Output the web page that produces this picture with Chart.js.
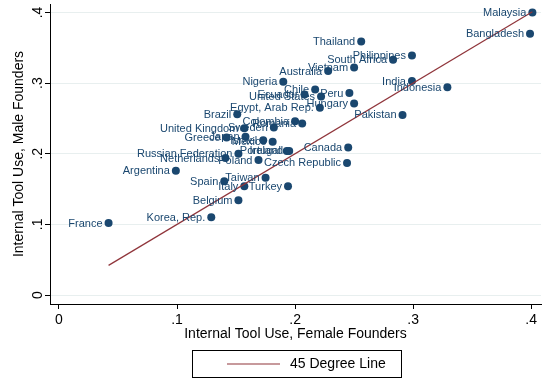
<!DOCTYPE html>
<html>
<head>
<meta charset="utf-8">
<script src="https://cdn.jsdelivr.net/npm/chart.js@4.4.1/dist/chart.umd.min.js"></script>
<style>
  html, body { margin: 0; padding: 0; background: #ffffff; }
  #wrap { width: 545px; height: 379px; }
</style>
</head>
<body>
<div id="wrap"><canvas id="chart" width="545" height="379"></canvas></div>
<script>
// Country labels and the share of founders using internal tools, by founder gender
const countries = [
  'Malaysia', 'Bangladesh', 'Thailand', 'Philippines', 'South Africa', 'Vietnam',
  'Australia', 'India', 'Nigeria', 'Indonesia', 'Chile', 'Peru', 'Ecuador',
  'United States', 'Hungary', 'Egypt, Arab Rep.', 'Pakistan', 'Brazil', 'Colombia',
  'Romania', 'Sweden', 'United Kingdom', 'Japan', 'Greece', 'Israel', 'Mexico',
  'Portugal', 'Ireland', 'Canada', 'Russian Federation', 'Netherlands', 'Poland',
  'Czech Republic', 'Argentina', 'Taiwan', 'Spain', 'Italy', 'Turkey', 'Belgium',
  'Korea, Rep.', 'France'
];
const femaleUse = [
  0.401, 0.399, 0.256, 0.299, 0.283, 0.250,
  0.228, 0.299, 0.190, 0.329, 0.217, 0.246, 0.208,
  0.222, 0.250, 0.221, 0.291, 0.151, 0.200,
  0.206, 0.182, 0.157, 0.158, 0.142, 0.173, 0.181,
  0.193, 0.195, 0.245, 0.152, 0.141, 0.169,
  0.244, 0.099, 0.175, 0.140, 0.157, 0.194, 0.152,
  0.129, 0.042
];
const maleUse = [
  0.400, 0.370, 0.359, 0.339, 0.333, 0.322,
  0.317, 0.303, 0.302, 0.294, 0.291, 0.286, 0.284,
  0.281, 0.271, 0.265, 0.255, 0.256, 0.246,
  0.243, 0.237, 0.236, 0.224, 0.223, 0.219, 0.217,
  0.204, 0.204, 0.209, 0.200, 0.194, 0.191,
  0.187, 0.176, 0.166, 0.161, 0.154, 0.154, 0.134,
  0.110, 0.102
];
const tickValues = [0, 0.1, 0.2, 0.3, 0.4];
const tickLabels = ['0', '.1', '.2', '.3', '.4'];

const NAVY = '#1a476f';
const MAROON = '#90353b';
const FONT = "'Liberation Sans', Arial, sans-serif";

// 45 degree reference line over the range of female values
const lo = Math.min(...femaleUse);
const hi = Math.max(...femaleUse);

const points = femaleUse.map((f, i) => ({ x: f, y: maleUse[i] }));

const labelFor = v => tickLabels[tickValues.findIndex(t => Math.abs(t - v) < 1e-9)] ?? '';

// Country names to the left of each marker
const markerLabels = {
  id: 'markerLabels',
  afterDatasetsDraw(chart) {
    const meta = chart.getDatasetMeta(1);
    const ctx = chart.ctx;
    ctx.save();
    ctx.font = '11px ' + FONT;
    ctx.fillStyle = NAVY;
    ctx.textAlign = 'right';
    ctx.textBaseline = 'middle';
    meta.data.forEach((el, i) => {
      ctx.fillText(countries[i], el.x - 6, el.y + 0.5);
    });
    ctx.restore();
  }
};

// Vertical tick labels and title for the y axis, plus the boxed legend
const extras = {
  id: 'extras',
  afterDraw(chart) {
    const ctx = chart.ctx;
    const ys = chart.scales.y;
    const area = chart.chartArea;
    ctx.save();
    ctx.fillStyle = '#000000';
    ctx.textAlign = 'center';
    ctx.textBaseline = 'middle';
    ctx.font = '14px ' + FONT;
    tickValues.forEach((v, i) => {
      const py = ys.getPixelForValue(v);
      ctx.save();
      ctx.translate(38, py);
      ctx.rotate(-Math.PI / 2);
      ctx.fillText(tickLabels[i], 0, 0);
      ctx.restore();
    });
    ctx.save();
    ctx.translate(19, (area.top + area.bottom) / 2);
    ctx.rotate(-Math.PI / 2);
    ctx.fillText('Internal Tool Use, Male Founders', 0, 0);
    ctx.restore();

    // legend
    const bx = 192, by = 350, bw = 209, bh = 27;
    ctx.strokeStyle = '#000000';
    ctx.lineWidth = 1;
    ctx.strokeRect(bx + 0.5, by + 0.5, bw, bh);
    ctx.strokeStyle = MAROON;
    ctx.lineWidth = 1.2;
    ctx.beginPath();
    ctx.moveTo(227, by + bh / 2 + 0.5);
    ctx.lineTo(280, by + bh / 2 + 0.5);
    ctx.stroke();
    ctx.textAlign = 'left';
    ctx.fillStyle = '#000000';
    ctx.font = '14px ' + FONT;
    ctx.fillText(chart.data.datasets[0].label, 290, by + bh / 2 + 1);
    ctx.restore();
  }
};

new Chart(document.getElementById('chart'), {
  data: {
    datasets: [
      {
        type: 'line',
        label: '45 Degree Line',
        data: [{ x: lo, y: lo }, { x: hi, y: hi }],
        borderColor: MAROON,
        borderWidth: 1.2,
        pointRadius: 0,
        fill: false,
        order: 0
      },
      {
        type: 'scatter',
        label: 'Countries',
        data: points,
        backgroundColor: NAVY,
        borderColor: NAVY,
        borderWidth: 0,
        pointRadius: 4,
        order: 1
      }
    ]
  },
  options: {
    responsive: false,
    devicePixelRatio: 1,
    animation: false,
    layout: { padding: { top: 2, right: 3, bottom: 35, left: 0 } },
    plugins: {
      legend: { display: false },
      tooltip: { enabled: false }
    },
    scales: {
      x: {
        type: 'linear',
        min: -0.0076,
        max: 0.4083,
        afterBuildTicks: s => { s.ticks = tickValues.map(v => ({ value: v })); },
        afterFit: s => { s.height = 40; },
        grid: {
          drawOnChartArea: false,
          drawTicks: true,
          tickLength: 5,
          tickColor: '#000000',
          tickWidth: 1
        },
        border: { display: true, color: '#000000', width: 1 },
        ticks: {
          callback: v => labelFor(v),
          color: '#000000',
          font: { family: FONT, size: 14 },
          padding: 3,
          maxRotation: 0,
          autoSkip: false
        },
        title: {
          display: true,
          text: 'Internal Tool Use, Female Founders',
          color: '#000000',
          font: { family: FONT, size: 14 },
          padding: { top: 0, bottom: 1 }
        }
      },
      y: {
        type: 'linear',
        min: -0.0127,
        max: 0.412,
        afterBuildTicks: s => { s.ticks = tickValues.map(v => ({ value: v })); },
        afterFit: s => { s.width = 50; },
        grid: {
          drawOnChartArea: true,
          color: '#e8efef',
          lineWidth: 1,
          drawTicks: true,
          tickLength: 5,
          tickColor: '#000000',
          tickWidth: 1
        },
        border: { display: true, color: '#000000', width: 1 },
        ticks: { display: false }
      }
    }
  },
  plugins: [markerLabels, extras]
});
</script>
</body>
</html>
